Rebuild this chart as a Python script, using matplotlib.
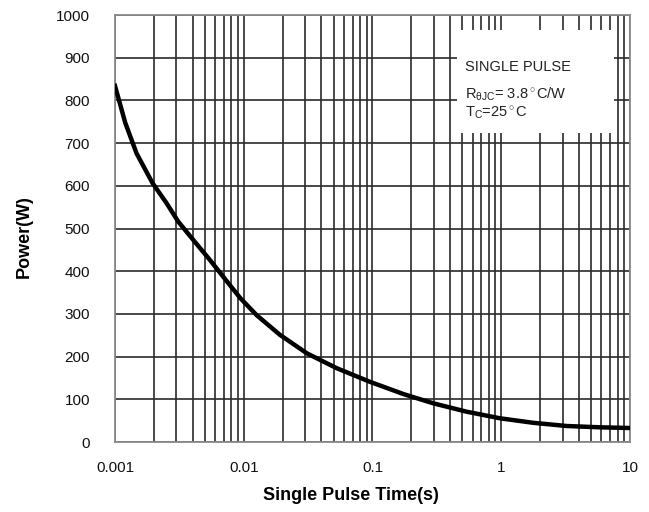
import matplotlib

matplotlib.use("Agg")
import matplotlib.pyplot as plt
from matplotlib.patches import Rectangle
from matplotlib.ticker import LogLocator, NullFormatter

plt.rcParams["font.family"] = ["Liberation Sans", "DejaVu Sans"]
plt.rcParams["mathtext.fontset"] = "custom"
plt.rcParams["mathtext.rm"] = "Liberation Sans"
plt.rcParams["mathtext.it"] = "Liberation Sans:italic"

# single pulse power curve
pulse_t = [0.001, 0.0012, 0.00147, 0.00196, 0.00252, 0.0031, 0.00406,
           0.00547, 0.00693, 0.0094, 0.0126, 0.0191, 0.0308, 0.0526,
           0.0955, 0.175, 0.297, 0.538, 0.98, 1.77, 3.22, 5.85, 10]
power_w = [834, 748, 676, 606, 559, 516, 473,
           426, 387, 337, 297, 251, 208, 173,
           141, 112, 90.6, 71, 55.5, 45, 37.5, 34.4, 32.8]

x_ticks = [0.001, 0.01, 0.1, 1, 10]
x_labels = ["0.001", "0.01", "0.1", "1", "10"]
y_ticks = list(range(0, 1001, 100))
note_lines = ["SINGLE PULSE",
              r"R$_{\mathrm{\theta JC}}$= 3.8$^\circ$C/W",
              r"T$_{\mathrm{C}}$=25$^\circ$C"]

fig = plt.figure(figsize=(6.49, 5.12), dpi=100)
ax = fig.add_axes([0.1772, 0.1367, 0.7935, 0.834])

ax.set_xscale("log")
ax.set_xlim(0.001, 10)
ax.set_ylim(0, 1000)
ax.set_xticks(x_ticks, x_labels)
ax.xaxis.set_minor_locator(LogLocator(base=10, subs=range(2, 10)))
ax.xaxis.set_minor_formatter(NullFormatter())
ax.set_yticks(y_ticks)

ax.set_axisbelow(True)
ax.grid(which="both", axis="both", color="#2a2a2a", lw=1.2)
ax.tick_params(which="both", length=0, labelsize=11, colors="#111")
ax.tick_params(axis="x", pad=14)
ax.tick_params(axis="y", pad=18)
for s in ax.spines.values():
    s.set_color("#8a8a8a")
    s.set_linewidth(1.3)

# white note box hiding the grid
ax.add_patch(Rectangle((0.45, 724), 7.5 - 0.45, 965 - 724, facecolor="white",
                       edgecolor="none", zorder=2))
for line, yy in zip(note_lines, (0.878, 0.815, 0.772)):
    ax.text(0.680, yy, line, transform=ax.transAxes, fontsize=10.5,
            color="#222", ha="left", va="center", zorder=4)

ax.plot(pulse_t, power_w, color="black", lw=3.2, zorder=3,
        solid_joinstyle="round")

ax.set_xlabel("Single Pulse Time(s)", fontsize=13, fontweight="bold")
ax.xaxis.set_label_coords(0.458, -0.105)
ax.set_ylabel("Power(W)", fontsize=13, fontweight="bold")
ax.yaxis.set_label_coords(-0.16, 0.48)

fig.savefig("out.png", dpi=100, facecolor="white")
